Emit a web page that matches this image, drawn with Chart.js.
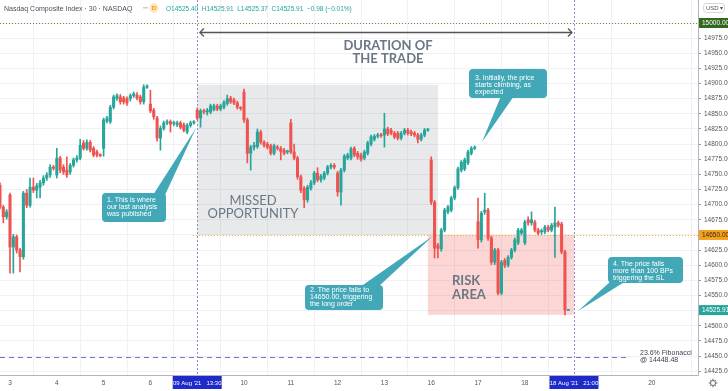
<!DOCTYPE html>
<html><head><meta charset="utf-8">
<script src="https://cdn.jsdelivr.net/npm/chart.js@4.4.0/dist/chart.umd.min.js"></script>
<style>html,body{margin:0;padding:0;background:#fff;}#wrap{width:728px;height:391px;position:relative;}</style>
</head><body><div id="wrap"><canvas id="c" width="728" height="391"></canvas></div>
<script>
// ---- DATA (30-min bars, NASDAQ Composite, 2–18 Aug 2021) ----
const dayLabels = ['3','4','5','6','9','10','11','12','13','16','17','18','19','20'];
const barsPerDay = 14;
const firstBarIndex = -3; // last 3 bars of 2 Aug
const opens = [
 14732,14696,14680,
 14716,14630,14647,14625,14614,14719,14699,14729,14724,14729,14736,14744,14749,14762,
 14749,14777,14762,14757,14754,14765,14774,14777,14802,14793,14803,14793,14787,14782,
 14793,14838,14837,14861,14875,14878,14876,14875,14875,14880,14881,14878,14870,14894,
 14866,14856,14843,14810,14826,14835,14837,14834,14832,14835,14832,14820,14831,14835,
 14856,14843,14855,14853,14853,14857,14863,14858,14861,14867,14876,14873,14868,14860,
 14886,14840,14785,14795,14796,14820,14803,14800,14797,14785,14795,14793,14790,14787,
 14835,14787,14777,14746,14727,14708,14727,14736,14752,14741,14744,14752,14762,14765,
 14752,14721,14757,14777,14777,14793,14785,14782,14777,14785,14800,14808,14813,14815,
 14815,14825,14823,14818,14818,14810,14818,14823,14820,14818,14815,14808,14815,14823,
 14774,14704,14633,14627,14658,14688,14691,14711,14728,14757,14759,14769,14785,14793,
 14672,14642,14688,14691,14645,14605,14625,14554,14608,14600,14613,14625,14637,14653,
 14637,14675,14670,14671,14658,14655,14655,14663,14658,14663,14670,14668,14622,14525.40];
const highs = [
 14736,14699,14692,
 14719,14651,14650,14628,14722,14725,14744,14744,14735,14740,14748,14753,14766,14765,
 14793,14780,14766,14779,14768,14777,14781,14808,14806,14807,14806,14796,14790,14784,
 14843,14846,14864,14881,14883,14882,14879,14878,14883,14886,14885,14881,14898,14898,
 14889,14859,14846,14830,14838,14840,14840,14838,14838,14838,14835,14834,14838,14839,
 14860,14858,14858,14859,14866,14866,14866,14866,14872,14881,14879,14876,14871,14862,
 14891,14843,14798,14803,14825,14823,14806,14803,14800,14800,14798,14796,14793,14790,
 14841,14800,14780,14749,14730,14732,14740,14755,14761,14750,14755,14765,14768,14768,
 14755,14760,14783,14785,14795,14796,14788,14785,14790,14805,14815,14816,14818,14818,
 14851,14828,14826,14821,14821,14821,14826,14826,14823,14821,14818,14818,14826,14826,
 14779,14707,14636,14661,14694,14699,14714,14731,14762,14773,14777,14790,14796,14797,
 14711,14689,14719,14694,14648,14628,14628,14608,14611,14616,14628,14645,14661,14661,
 14674,14680,14688,14674,14661,14660,14666,14666,14669,14696,14673,14671,14625,14525.91];
const lows = [
 14693,14670,14676,
 14587,14587,14620,14589,14610,14695,14696,14720,14711,14711,14732,14740,14745,14757,
 14744,14753,14750,14745,14750,14762,14770,14774,14790,14790,14787,14779,14779,14779,
 14780,14835,14834,14858,14872,14866,14866,14864,14871,14877,14873,14866,14866,14892,
 14852,14841,14805,14790,14823,14832,14820,14830,14829,14825,14820,14817,14828,14833,
 14840,14828,14850,14848,14850,14855,14855,14855,14858,14864,14867,14865,14858,14856,
 14836,14769,14757,14790,14793,14800,14795,14792,14782,14782,14790,14774,14782,14784,
 14784,14774,14742,14720,14695,14704,14724,14733,14738,14737,14741,14749,14759,14759,
 14714,14699,14754,14774,14774,14779,14775,14772,14774,14782,14797,14805,14810,14811,
 14795,14814,14815,14809,14807,14807,14815,14815,14814,14812,14802,14805,14812,14821,
 14700,14612,14612,14623,14655,14685,14688,14708,14725,14754,14756,14766,14782,14791,
 14628,14638,14684,14641,14601,14601,14551,14551,14596,14597,14610,14622,14634,14650,
 14634,14666,14666,14655,14650,14651,14652,14655,14655,14613,14663,14619,14518,14525.37];
const closes = [
 14696,14680,14688,
 14630,14647,14625,14614,14719,14699,14729,14724,14731,14736,14744,14749,14762,14760,
 14777,14757,14754,14749,14765,14774,14777,14798,14793,14803,14790,14782,14782,14781,
 14840,14843,14861,14878,14880,14870,14870,14868,14880,14883,14876,14870,14894,14896,
 14855,14845,14810,14826,14835,14837,14833,14835,14835,14828,14823,14831,14835,14837,
 14843,14855,14853,14856,14863,14863,14858,14863,14869,14875,14870,14868,14861,14859,
 14840,14785,14795,14798,14820,14803,14798,14795,14785,14797,14793,14788,14785,14788,
 14787,14777,14746,14724,14708,14729,14736,14752,14741,14747,14752,14762,14765,14762,
 14721,14757,14780,14782,14792,14782,14779,14775,14787,14802,14812,14813,14815,14814,
 14825,14817,14818,14812,14810,14818,14823,14818,14817,14815,14808,14815,14823,14824,
 14704,14628,14628,14658,14691,14696,14711,14728,14759,14770,14774,14787,14793,14795,
 14642,14686,14691,14645,14605,14625,14554,14605,14600,14613,14625,14642,14658,14658,
 14671,14670,14675,14658,14653,14657,14663,14658,14666,14670,14666,14622,14526,14525.91];
const levelTarget = 15000;
const levelEntry = 14650;
const levelFib = 14448.48;
const lastPrice = 14525.91;
const missedTop = 14898;
const riskBottom = 14518;

// ---- BUILD ----
const UP='#26a69a', DN='#ef5350';
const idx = opens.map((_,k)=>k+firstBarIndex);
const cols = opens.map((o,k)=>closes[k]>=o?UP:DN);
const bodies = idx.map((x,k)=>({x, y:[Math.min(opens[k],closes[k]), Math.max(opens[k],closes[k])]}));
const wicks = idx.map((x,k)=>({x, y:[lows[k], highs[k]]}));
const tickIdx = dayLabels.map((d,k)=> k<13 ? k*barsPerDay : 192);
const entryIdx = 56, exitIdx = 168.7;
const FONT = '"Liberation Sans", Arial, sans-serif';

function rr(ctx,x,y,w,h,r){ctx.beginPath();ctx.moveTo(x+r,y);ctx.lineTo(x+w-r,y);ctx.quadraticCurveTo(x+w,y,x+w,y+r);ctx.lineTo(x+w,y+h-r);ctx.quadraticCurveTo(x+w,y+h,x+w-r,y+h);ctx.lineTo(x+r,y+h);ctx.quadraticCurveTo(x,y+h,x,y+h-r);ctx.lineTo(x,y+r);ctx.quadraticCurveTo(x,y,x+r,y);ctx.closePath();}

const overlay = {
  id:'overlay',
  beforeDatasetsDraw(chart){
    const {ctx, chartArea:a, scales:{x,y}} = chart;
    ctx.save();
    ctx.beginPath(); ctx.rect(a.left,a.top,a.right-a.left,a.bottom-a.top); ctx.clip();
    ctx.fillStyle='rgba(120,123,134,0.17)';
    ctx.fillRect(x.getPixelForValue(entryIdx), y.getPixelForValue(missedTop), x.getPixelForValue(128)-x.getPixelForValue(entryIdx), y.getPixelForValue(levelEntry)-y.getPixelForValue(missedTop));
    ctx.fillStyle='rgba(239,83,80,0.24)';
    ctx.fillRect(x.getPixelForValue(125), y.getPixelForValue(levelEntry), x.getPixelForValue(exitIdx)-x.getPixelForValue(125), y.getPixelForValue(riskBottom)-y.getPixelForValue(levelEntry));
    ctx.setLineDash([1,2]); ctx.lineWidth=1;
    ctx.strokeStyle='#5b9a3a';
    let yy=Math.round(y.getPixelForValue(levelTarget))+0.5;
    ctx.beginPath(); ctx.moveTo(a.left,yy); ctx.lineTo(a.right,yy); ctx.stroke();
    ctx.strokeStyle='#f5a623';
    yy=Math.round(y.getPixelForValue(levelEntry))+0.5;
    ctx.beginPath(); ctx.moveTo(x.getPixelForValue(54.7),yy); ctx.lineTo(a.right,yy); ctx.stroke();
    ctx.setLineDash([5,4]); ctx.strokeStyle='#6a78c8';
    yy=Math.round(y.getPixelForValue(levelFib))+0.5;
    ctx.beginPath(); ctx.moveTo(a.left,yy); ctx.lineTo(x.getPixelForValue(185.5),yy); ctx.stroke();
    ctx.setLineDash([2,2]); ctx.strokeStyle='#9a84d6';
    [entryIdx, exitIdx].forEach(v=>{const xx=Math.round(x.getPixelForValue(v))+0.5; ctx.beginPath(); ctx.moveTo(xx,a.top); ctx.lineTo(xx,a.bottom); ctx.stroke();});
    ctx.restore();
  },
  afterDraw(chart){
    const {ctx, chartArea:a, scales:{x,y}} = chart;
    ctx.save();
    const ay = Math.round(y.getPixelForValue(14985))+0.5;
    const ax1 = x.getPixelForValue(56.8), ax2 = x.getPixelForValue(168.1);
    ctx.strokeStyle='#555'; ctx.lineWidth=1.3; ctx.setLineDash([]);
    ctx.beginPath(); ctx.moveTo(ax1,ay); ctx.lineTo(ax2,ay); ctx.stroke();
    ctx.beginPath(); ctx.moveTo(ax1+4,ay-4); ctx.lineTo(ax1,ay); ctx.lineTo(ax1+4,ay+4); ctx.stroke();
    ctx.beginPath(); ctx.moveTo(ax2-4,ay-4); ctx.lineTo(ax2,ay); ctx.lineTo(ax2-4,ay+4); ctx.stroke();
    ctx.fillStyle='#6b7785'; ctx.textAlign='center'; ctx.textBaseline='alphabetic';
    ctx.font='bold 13px Lato, "Open Sans", sans-serif';
    ctx.fillText('DURATION OF', 388, 50);
    ctx.fillText('THE TRADE', 388, 63);
    ctx.font='13px Lato, "Open Sans", sans-serif';
    ctx.fillText('MISSED', 253, 205);
    ctx.fillText('OPPORTUNITY', 253, 218);
    ctx.textAlign='left'; ctx.font='bold 13px Lato, "Open Sans", sans-serif';
    ctx.fillText('RISK', 452, 285);
    ctx.fillText('AREA', 452, 299);
    const TEAL='#42a8b8';
    function callout(bx,by,bw,bh,b1,b2,tip,lines,tx,ty){
      ctx.fillStyle=TEAL;
      rr(ctx,bx,by,bw,bh,4); ctx.fill();
      ctx.beginPath(); ctx.moveTo(b1[0],b1[1]); ctx.lineTo(tip[0],tip[1]); ctx.lineTo(b2[0],b2[1]); ctx.closePath(); ctx.fill();
      ctx.fillStyle='#fff'; ctx.font='7px '+FONT; ctx.textAlign='left';
      lines.forEach((l,k)=>ctx.fillText(l,tx,ty+k*7));
    }
    callout(102,193,64,29,[153,195],[165,195],[196,128],['1. This is where','our last analysis','was published'],107,202);
    callout(305,285,78,25,[360,287],[378,287],[433,236],['2. The price falls to','14650.00, triggering','the long order'],310,292);
    callout(469,69,78,29,[501,96],[514,96],[482,142],['3. Initially, the price','starts climbing, as','expected'],475,80);
    callout(608,257,75,26,[611,281],[626,281],[578,311],['4. The price falls','more than 100 BPs','triggering the SL'],613,266);
    ctx.fillStyle='#3a3f4a'; ctx.font='7px '+FONT; ctx.textAlign='left';
    ctx.fillText('23.6% Fibonacci', 640, 355);
    ctx.fillText('@ 14448.48', 640, 362);
    ctx.fillStyle='#4a4f5a'; ctx.font='7px '+FONT;
    ctx.fillText('Nasdaq Composite Index · 30 · NASDAQ', 4, 11);
    ctx.fillStyle='#c9ccd3'; ctx.fillRect(143,7,5,1.5);
    ctx.fillStyle='#fde3b8'; ctx.beginPath(); ctx.arc(154,8,4.5,0,Math.PI*2); ctx.fill();
    ctx.fillStyle='#f59f00'; ctx.font='bold 6px '+FONT; ctx.textAlign='center'; ctx.fillText('D',154,10.2);
    ctx.textAlign='left'; ctx.fillStyle='#26a69a'; ctx.font='6.5px '+FONT;
    ctx.fillText('O14525.40  H14525.91  L14525.37  C14525.91  −0.98 (−0.01%)', 166, 11);
    function ybox(v,bg,fg,txt){const py=y.getPixelForValue(v); ctx.fillStyle=bg; ctx.fillRect(a.right+1,py-5,29,10); ctx.fillStyle=fg; ctx.font='6.5px '+FONT; ctx.textAlign='left'; ctx.fillText(txt,a.right+4,py+2.3);}
    ybox(levelTarget,'#33691e','#fff','15000.00');
    ybox(levelEntry,'#f7a11a','#2a2a2a','14650.00');
    ybox(lastPrice,'#26a69a','#fff','14525.91');
    ctx.fillStyle='#fff'; ctx.fillRect(a.right+1,0,27,16);
    ctx.strokeStyle='#c8cbd2'; ctx.lineWidth=0.8; rr(ctx,703.5,3.5,21,9,3); ctx.stroke();
    ctx.fillStyle='#555'; ctx.font='6px '+FONT; ctx.fillText('USD ▾',706,10);
    function xbox(v,txt){const px=x.getPixelForValue(v); ctx.fillStyle='#1f2bc8'; ctx.fillRect(px-24.5,376,49,13); ctx.fillStyle='#fff'; ctx.font='6px '+FONT; ctx.textAlign='center'; ctx.fillText(txt,px,385);}
    xbox(entryIdx,"09 Aug '21   13:30");
    xbox(exitIdx,"18 Aug '21   21:00");
    ctx.strokeStyle='#666'; ctx.lineWidth=1; ctx.beginPath(); ctx.arc(713,383,2.5,0,Math.PI*2); ctx.stroke();
    for(let k=0;k<8;k++){const an=k*Math.PI/4; ctx.beginPath(); ctx.moveTo(713+3*Math.cos(an),383+3*Math.sin(an)); ctx.lineTo(713+4.3*Math.cos(an),383+4.3*Math.sin(an)); ctx.stroke();}
    ctx.restore();
  }
};

new Chart(document.getElementById('c'), {
  type:'bar',
  data:{datasets:[
    {label:'wick', data:wicks, backgroundColor:cols, borderWidth:0, barThickness:1, grouped:false, order:2, minBarLength:1},
    {label:'body', data:bodies, backgroundColor:cols, borderWidth:0, barThickness:2.4, grouped:false, order:1, minBarLength:1}
  ]},
  options:{
    responsive:false, animation:false, devicePixelRatio:1,
    layout:{padding:0},
    plugins:{legend:{display:false}, tooltip:{enabled:false}},
    scales:{
      x:{type:'linear', position:'bottom', min:-2.99, max:205.8, offset:false,
        grid:{color:'#eff1f6', drawTicks:false}, border:{color:'#b2b5be'},
        afterBuildTicks:s=>{s.ticks = tickIdx.map(v=>({value:v}));},
        afterFit:s=>{s.height=16; s.paddingLeft=0; s.paddingRight=0;},
        ticks:{autoSkip:false, maxRotation:0, padding:4, color:'#555', font:{family:FONT,size:6.5},
          callback:(v)=>{const k=tickIdx.indexOf(v); return k>=0?dayLabels[k]:'';}}},
      y:{type:'linear', position:'right', min:14418.7, max:15038,
        grid:{color:'#eff1f6', tickColor:'#999', tickLength:3}, border:{color:'#b2b5be'},
        afterBuildTicks:s=>{const t=[]; for(let v=14425; v<=15000; v+=25) t.push({value:v}); s.ticks=t;},
        afterFit:s=>{s.width=30; s.paddingTop=0; s.paddingBottom=0;},
        ticks:{padding:3, color:'#555', font:{family:FONT,size:6.5}, callback:v=>Number(v).toFixed(2)}}
    }
  },
  plugins:[overlay]
});
</script></body></html>
